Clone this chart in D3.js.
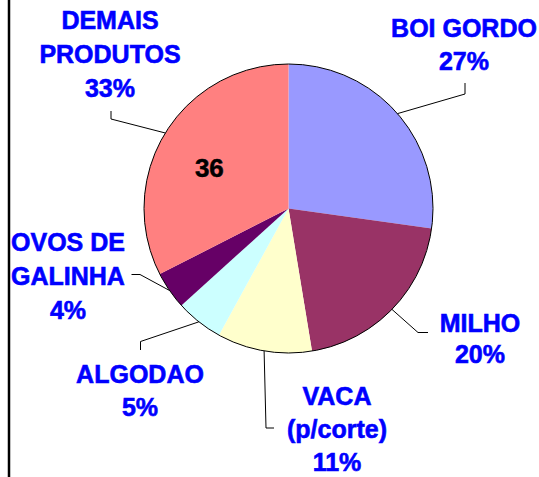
<!DOCTYPE html>
<html>
<head>
<meta charset="utf-8">
<script src="https://cdn.jsdelivr.net/npm/d3@7"></script>
<style>
  html, body { margin: 0; padding: 0; background: #fff; }
  svg { display: block; }
</style>
</head>
<body>
<div id="chart"></div>
<script>
// ─── Data ────────────────────────────────────────────────────────────────
const categories = ['BOI GORDO', 'MILHO', 'VACA (p/corte)', 'ALGODAO', 'OVOS DE GALINHA', 'DEMAIS PRODUTOS'];
const shares = [27.2, 20.2, 10.6, 5.3, 4.2, 32.5];
const percentLabels = ['27%', '20%', '11%', '5%', '4%', '33%'];
const nameLines = [
  ['BOI GORDO'],
  ['MILHO'],
  ['VACA', '(p/corte)'],
  ['ALGODAO'],
  ['OVOS DE', 'GALINHA'],
  ['DEMAIS', 'PRODUTOS']
];
const colors = ['#9999ff', '#993366', '#ffffcc', '#ccffff', '#660066', '#ff8080'];
const innerValue = '36'; // value label shown inside DEMAIS PRODUTOS

// ─── Layout (label anchors, leader bends) ────────────────────────────────
const W = 539, H = 477;
const cx = 288.5, cy = 208.5, R = 144.5;

const labelLayout = [
  { x: 464, y: 37,  lh: 33,   bend: [465, 94],  end: [465, 83] },
  { x: 480, y: 331.5, lh: 31.5, bend: [418, 332.5], end: [428, 332.5] },
  { x: 337, y: 405, lh: 33,   bend: [266, 428], end: [274, 428] },
  { x: 140, y: 383, lh: 33,   bend: [140.5, 341.5], end: [140.5, 350] },
  { x: 68,  y: 251, lh: 34,   bend: [140, 274.5], end: [131.5, 274.5] },
  { x: 110, y: 29,  lh: 34,   bend: [111, 119], end: [111, 111] }
];

const svg = d3.select('#chart').append('svg')
  .attr('width', W).attr('height', H);

// left border line
svg.append('line')
  .attr('x1', 9).attr('x2', 9)
  .attr('y1', 0).attr('y2', H)
  .attr('stroke', '#000').attr('stroke-width', 2.5);

const pie = d3.pie().sort(null).value(d => d);
const arcs = pie(shares);
const arc = d3.arc().innerRadius(0).outerRadius(R);

const g = svg.append('g').attr('transform', `translate(${cx},${cy})`);

g.selectAll('path.slice')
  .data(arcs)
  .join('path')
  .attr('class', 'slice')
  .attr('d', arc)
  .attr('fill', (d, i) => colors[i]);

// outer outline only
g.append('circle')
  .attr('r', R)
  .attr('fill', 'none')
  .attr('stroke', '#000')
  .attr('stroke-width', 1);

// leader lines: from mid-angle on the rim to the label
arcs.forEach((d, i) => {
  const mid = (d.startAngle + d.endAngle) / 2;
  const px = cx + R * Math.sin(mid);
  const py = cy - R * Math.cos(mid);
  const L = labelLayout[i];
  svg.append('polyline')
    .attr('points', [[px, py], L.bend, L.end].map(p => p.join(',')).join(' '))
    .attr('fill', 'none')
    .attr('stroke', '#000')
    .attr('stroke-width', 1);
});

// category labels
arcs.forEach((d, i) => {
  const L = labelLayout[i];
  const lines = nameLines[i].concat([percentLabels[i]]);
  const t = svg.append('text')
    .attr('text-anchor', 'middle')
    .attr('fill', '#0000ff')
    .attr('stroke', '#0000ff').attr('stroke-width', 0.6)
    .attr('font-family', 'Arial, "Liberation Sans", sans-serif')
    .attr('font-weight', 'bold')
    .attr('font-size', 25);
  lines.forEach((s, k) => {
    t.append('tspan')
      .attr('x', L.x)
      .attr('y', L.y + k * L.lh)
      .text(s);
  });
});

// value label inside the largest slice
const demais = arcs[5];
const vArc = d3.arc().innerRadius(89).outerRadius(89)
  .startAngle(demais.startAngle).endAngle(demais.endAngle - 0.15);
const [vx, vy] = vArc.centroid();
svg.append('text')
  .attr('x', cx + vx).attr('y', cy + vy + 9)
  .attr('text-anchor', 'middle')
  .attr('fill', '#000')
  .attr('stroke', '#000').attr('stroke-width', 0.5)
  .attr('font-family', 'Arial, "Liberation Sans", sans-serif')
  .attr('font-weight', 'bold')
  .attr('font-size', 26)
  .text(innerValue);
</script>
</body>
</html>
